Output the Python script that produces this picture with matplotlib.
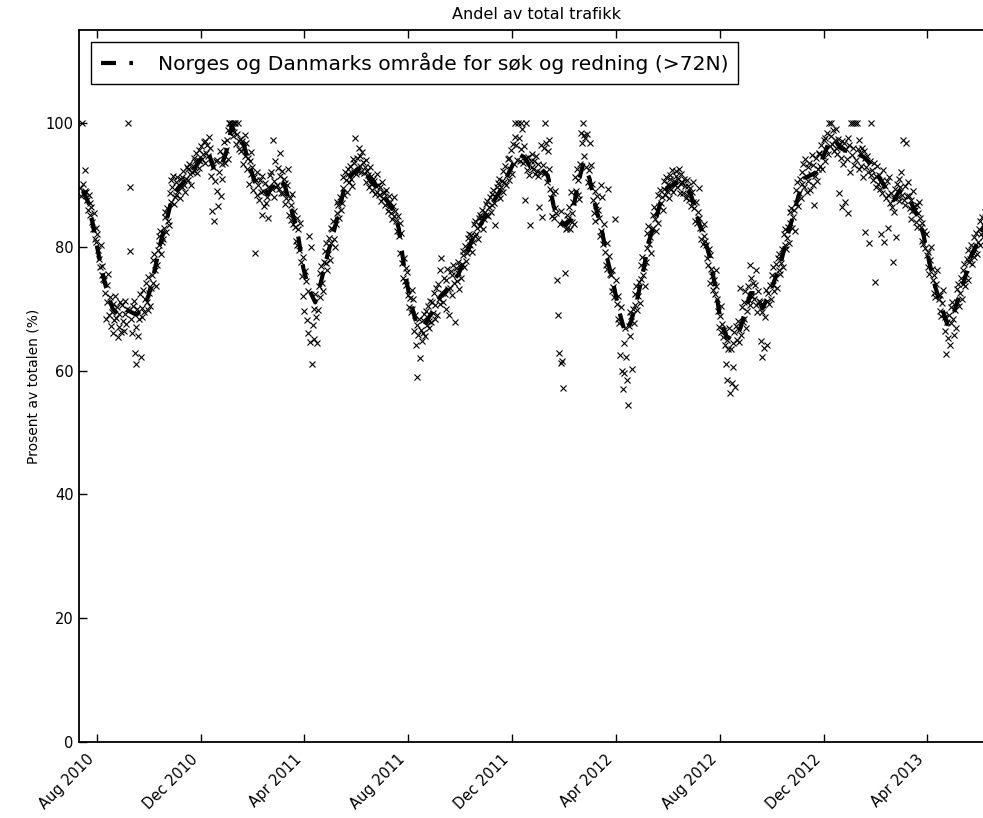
import numpy as np
import matplotlib
matplotlib.use('Agg')
import matplotlib.pyplot as plt
import matplotlib.dates as mdates

# weekly mean of the share (%) - dashed line
start = np.datetime64('2010-07-12')
weekly_mean = [
    89, 87, 82, 77, 73, 70, 69, 70, 69.5, 69,
    70, 72, 76, 80.5, 84, 88, 89.5, 90.5, 91.5, 93,
    94.5, 95.5, 92.5, 92.5, 95, 99.5, 97.5, 96.5, 93, 90,
    89.5, 88.5, 90, 91, 89.5, 86, 82.5, 76.5, 73, 71,
    74.5, 78.5, 82, 86, 90, 91.5, 92.5, 93, 91, 90,
    89, 87.5, 86, 83, 76, 71, 67.5, 67, 68.5, 70,
    72, 73, 74.5, 75.5, 78, 80.5, 82.5, 84, 86, 87.5,
    89, 91, 93, 95, 94.5, 93, 93, 92.5, 91.5, 86.5,
    84, 83.5, 84.5, 90, 93.5, 91, 86.5, 83, 78, 74,
    69.5, 66, 68, 71.5, 76, 81, 84, 87.5, 89.5, 90,
    90.5, 89.5, 88.5, 85, 82, 79, 74, 68, 65.5, 65,
    66, 69, 72.5, 72.5, 70, 72, 74.5, 77, 81, 84.5,
    88, 91, 91.5, 92, 94, 96.5, 97.5, 96, 95.5, 95.5,
    95, 94.5, 93.5, 92, 90.5, 89, 87.5, 89, 88.5, 87,
    85, 82, 77.5, 73.5, 70.5, 67.5, 69, 72, 75, 78.5,
    80.5, 83, 85,
]

# daily values (%), one row per week
daily_vals = [
    [89.5, 88.2, 100, 90.1, 88.7, 89.0, 92.4],
    [88.9, 87.5, 86.0, 88.3, 85.2, 87.1, 86.4],
    [84.0, 82.8, 85.5, 81.2, 83.0, 80.7, 82.1],
    [79.5, 78.0, 76.8, 80.2, 75.4, 76.9, 74.8],
    [74.6, 72.5, 68.3, 73.8, 71.0, 75.6, 69.0],
    [71.8, 67.2, 69.5, 66.0, 70.8, 68.1, 72.0],
    [68.5, 70.2, 65.4, 69.1, 67.0, 71.0, 66.3],
    [70.6, 68.0, 66.4, 71.3, 69.2, 67.5, 70.0],
    [100, 69.8, 89.6, 79.3, 68.4, 66.1, 70.5],
    [71.2, 62.8, 61.0, 67.0, 69.9, 65.5, 68.3],
    [72.4, 62.2, 70.1, 68.7, 73.0, 69.4, 71.5],
    [74.2, 71.0, 69.8, 75.1, 72.6, 70.4, 73.3],
    [75.4, 77.9, 74.1, 78.8, 76.2, 73.6, 77.0],
    [79.4, 81.8, 80.2, 82.5, 78.9, 80.8, 81.3],
    [83.0, 85.6, 84.8, 82.4, 86.2, 84.1, 83.5],
    [88.6, 90.8, 87.2, 89.7, 91.5, 86.9, 88.0],
    [90.4, 88.3, 91.2, 89.0, 90.0, 87.8, 91.0],
    [91.3, 89.6, 92.2, 90.0, 88.9, 90.9, 92.8],
    [92.6, 90.7, 93.4, 91.8, 89.9, 92.0, 93.1],
    [94.4, 92.3, 93.8, 95.2, 91.9, 94.0, 92.7],
    [95.6, 93.8, 96.3, 94.2, 95.0, 96.9, 93.6],
    [97.0, 95.1, 96.4, 94.6, 97.8, 95.9, 93.5],
    [91.4, 85.8, 92.9, 84.2, 90.6, 93.8, 89.0],
    [94.0, 86.5, 92.1, 95.4, 88.2, 93.3, 91.0],
    [94.8, 96.9, 93.6, 95.7, 97.2, 94.1, 98.9],
    [100, 100, 99.2, 100, 97.9, 100, 98.6],
    [100, 96.6, 98.2, 100, 97.1, 95.8, 97.4],
    [95.5, 97.0, 93.4, 96.1, 98.0, 94.6, 96.8],
    [92.5, 94.4, 90.1, 93.9, 91.7, 95.3, 92.8],
    [89.2, 91.3, 79.0, 90.8, 88.4, 92.1, 89.9],
    [87.6, 90.7, 88.9, 85.2, 91.4, 89.0, 86.6],
    [90.3, 87.1, 88.0, 89.6, 84.7, 88.8, 91.6],
    [92.0, 89.3, 97.3, 90.6, 88.1, 93.8, 89.7],
    [90.0, 92.7, 89.4, 95.1, 91.5, 88.6, 92.2],
    [88.7, 91.0, 86.9, 90.3, 87.8, 89.9, 92.6],
    [85.1, 87.9, 84.3, 86.7, 88.5, 83.6, 85.8],
    [83.2, 81.0, 84.6, 80.2, 82.8, 79.4, 83.9],
    [77.5, 75.2, 72.0, 78.3, 69.6, 76.0, 74.4],
    [68.2, 66.0, 72.9, 81.8, 64.6, 79.9, 61.0],
    [67.3, 70.0, 65.1, 72.4, 68.6, 64.4, 69.8],
    [73.6, 75.8, 71.9, 76.9, 74.2, 72.8, 77.6],
    [79.3, 77.4, 80.6, 76.2, 78.9, 81.4, 77.8],
    [83.1, 80.6, 82.8, 84.2, 81.3, 79.9, 83.6],
    [85.4, 87.3, 86.8, 84.6, 88.1, 85.9, 87.0],
    [89.5, 91.2, 88.4, 92.0, 90.7, 88.9, 91.8],
    [92.6, 90.4, 93.1, 91.0, 89.8, 94.2, 92.0],
    [93.5, 97.6, 91.8, 94.4, 92.2, 96.0, 93.0],
    [94.6, 92.1, 95.3, 93.7, 91.9, 92.8, 94.0],
    [90.5, 92.3, 91.6, 89.7, 92.9, 90.1, 91.4],
    [89.2, 91.0, 90.6, 88.5, 89.8, 91.7, 88.9],
    [90.0, 88.3, 89.6, 87.4, 90.4, 88.8, 87.9],
    [88.6, 86.7, 89.1, 87.0, 85.8, 88.2, 86.4],
    [87.3, 85.4, 84.5, 86.6, 88.0, 84.9, 85.7],
    [84.1, 82.6, 85.0, 81.7, 79.0, 83.8, 82.2],
    [77.3, 75.0, 78.1, 74.5, 76.6, 73.8, 75.9],
    [72.2, 70.3, 71.7, 69.4, 73.0, 70.0, 71.5],
    [66.4, 68.9, 64.2, 67.3, 59.0, 65.8, 68.4],
    [62.0, 66.6, 64.7, 68.2, 66.0, 69.1, 65.5],
    [69.6, 67.4, 70.4, 66.9, 68.0, 71.3, 67.8],
    [71.0, 69.3, 72.6, 68.4, 70.6, 73.4, 69.0],
    [74.0, 71.5, 76.2, 70.7, 78.2, 72.6, 71.1],
    [75.0, 72.3, 74.6, 70.0, 76.4, 73.1, 68.9],
    [73.3, 76.0, 72.2, 75.4, 77.1, 74.1, 67.8],
    [76.6, 74.4, 77.5, 75.8, 73.2, 76.9, 75.0],
    [77.2, 79.3, 78.6, 76.8, 80.1, 77.7, 79.0],
    [81.4, 79.6, 82.0, 80.2, 81.9, 79.1, 80.8],
    [83.6, 81.8, 84.2, 82.1, 83.0, 81.2, 84.6],
    [85.1, 83.3, 84.8, 86.0, 82.9, 84.5, 85.6],
    [86.9, 85.2, 87.4, 84.9, 86.4, 88.0, 85.6],
    [88.5, 86.8, 89.2, 87.0, 83.5, 88.1, 89.6],
    [90.3, 88.4, 91.0, 87.9, 89.7, 90.6, 88.8],
    [92.2, 90.4, 93.0, 89.9, 91.6, 94.1, 90.8],
    [94.4, 92.6, 95.7, 91.8, 96.6, 93.4, 97.8],
    [100, 96.4, 94.0, 100, 97.5, 93.8, 100],
    [95.8, 99.0, 93.6, 96.2, 87.6, 94.4, 100],
    [92.4, 94.5, 91.6, 83.5, 93.8, 92.9, 95.0],
    [92.6, 93.9, 91.8, 94.7, 92.2, 93.3, 91.5],
    [86.4, 92.0, 96.4, 84.8, 93.2, 91.7, 95.9],
    [100, 96.8, 90.4, 95.5, 97.2, 92.6, 89.4],
    [87.8, 85.0, 88.6, 84.6, 86.2, 89.0, 85.4],
    [74.6, 69.0, 62.8, 83.6, 61.2, 85.7, 61.6],
    [57.2, 84.0, 75.8, 82.8, 85.2, 83.0, 84.4],
    [86.4, 82.9, 88.8, 84.0, 85.5, 87.2, 83.6],
    [91.2, 89.0, 92.6, 88.3, 90.7, 87.7, 93.4],
    [98.4, 96.8, 100, 98.0, 94.6, 97.5, 92.8],
    [98.2, 90.5, 92.4, 96.8, 89.8, 93.2, 90.2],
    [87.6, 85.4, 89.0, 84.2, 86.8, 88.2, 85.9],
    [84.6, 81.8, 89.9, 82.6, 88.0, 80.4, 83.7],
    [79.2, 77.0, 80.6, 76.4, 89.4, 78.5, 75.6],
    [75.4, 72.8, 76.3, 73.5, 71.9, 84.5, 74.7],
    [70.8, 68.4, 72.0, 67.6, 62.5, 70.3, 60.0],
    [57.0, 64.4, 59.6, 66.8, 62.2, 58.5, 54.4],
    [67.2, 69.4, 65.5, 68.8, 60.2, 70.0, 67.6],
    [72.4, 70.6, 73.6, 69.8, 72.0, 74.3, 70.9],
    [77.0, 74.8, 78.3, 75.4, 76.8, 73.6, 77.5],
    [82.2, 79.8, 83.4, 80.5, 81.6, 79.0, 82.8],
    [85.2, 83.0, 86.4, 84.4, 82.6, 85.8, 83.8],
    [88.4, 86.6, 89.1, 87.0, 88.0, 85.9, 89.4],
    [90.6, 88.4, 91.2, 89.0, 90.2, 87.9, 91.6],
    [91.0, 89.4, 92.4, 88.8, 90.6, 89.9, 92.2],
    [91.4, 89.6, 90.9, 92.6, 88.7, 90.2, 91.8],
    [90.4, 88.6, 91.0, 89.8, 87.9, 90.7, 88.3],
    [89.8, 87.6, 89.5, 86.6, 88.9, 90.5, 87.2],
    [86.2, 84.2, 87.3, 83.8, 85.6, 89.5, 84.6],
    [83.0, 81.3, 82.8, 80.4, 83.6, 81.8, 80.9],
    [80.2, 78.1, 77.0, 79.6, 74.2, 78.6, 76.4],
    [75.2, 73.0, 74.7, 72.4, 76.3, 73.6, 71.6],
    [69.6, 67.0, 68.8, 66.2, 70.4, 67.5, 65.4],
    [66.6, 64.2, 61.0, 65.0, 58.4, 63.4, 66.9],
    [56.4, 63.5, 58.0, 64.4, 60.6, 66.2, 57.4],
    [67.2, 65.0, 68.0, 64.6, 66.6, 73.3, 65.8],
    [70.2, 67.8, 71.0, 68.4, 72.8, 66.8, 69.6],
    [73.6, 71.4, 77.0, 70.6, 75.0, 72.0, 74.2],
    [71.6, 73.8, 70.6, 76.2, 69.4, 72.9, 71.2],
    [71.0, 64.8, 69.4, 62.2, 70.6, 63.6, 68.6],
    [73.0, 71.2, 64.2, 72.6, 70.8, 73.8, 71.6],
    [75.4, 73.8, 76.8, 72.9, 74.9, 77.2, 73.4],
    [78.1, 76.2, 78.8, 75.6, 77.4, 79.6, 76.8],
    [82.0, 80.2, 82.8, 79.6, 81.4, 83.2, 80.6],
    [85.6, 83.8, 86.2, 83.1, 84.8, 85.9, 82.6],
    [89.2, 87.0, 90.4, 86.6, 88.6, 91.0, 87.8],
    [92.0, 90.2, 93.4, 89.6, 94.2, 91.4, 88.8],
    [92.8, 90.6, 93.6, 89.2, 91.8, 94.8, 90.0],
    [93.2, 86.8, 91.4, 94.4, 90.6, 92.6, 95.0],
    [95.2, 93.0, 96.4, 92.6, 94.6, 97.2, 93.8],
    [97.6, 95.6, 98.4, 95.0, 100, 96.2, 97.9],
    [100, 96.6, 98.8, 95.4, 97.2, 99.0, 96.0],
    [95.0, 97.4, 88.7, 96.6, 94.4, 86.4, 97.0],
    [93.4, 96.8, 87.2, 95.8, 94.2, 97.6, 85.5],
    [96.4, 92.0, 100, 94.8, 100, 96.0, 93.2],
    [100, 94.0, 100, 95.8, 92.6, 97.2, 95.2],
    [93.0, 96.0, 91.2, 95.4, 82.4, 94.4, 92.8],
    [94.6, 92.0, 80.6, 93.8, 91.6, 100, 92.4],
    [90.8, 93.6, 74.3, 91.4, 89.6, 93.0, 90.2],
    [91.6, 89.4, 82.0, 90.8, 88.6, 92.4, 80.8],
    [89.8, 87.8, 90.6, 83.0, 88.4, 91.2, 87.0],
    [88.6, 86.4, 77.5, 87.8, 85.6, 89.4, 81.6],
    [90.2, 88.0, 91.0, 87.4, 89.6, 92.0, 88.4],
    [97.2, 87.6, 89.8, 86.8, 96.8, 88.2, 90.4],
    [88.2, 86.2, 84.4, 87.6, 85.8, 89.0, 86.6],
    [86.0, 84.0, 86.8, 83.2, 85.4, 87.2, 84.6],
    [83.2, 81.0, 83.8, 80.4, 82.6, 79.8, 82.0],
    [78.6, 76.8, 79.2, 75.6, 77.9, 80.0, 76.4],
    [74.6, 72.6, 75.4, 71.8, 73.9, 76.2, 72.2],
    [71.6, 69.6, 72.2, 68.8, 70.9, 73.0, 69.2],
    [68.6, 66.4, 62.6, 67.8, 65.2, 69.0, 64.2],
    [70.2, 67.6, 71.0, 68.4, 65.8, 69.8, 66.8],
    [73.2, 71.0, 74.0, 70.4, 72.6, 75.0, 71.6],
    [76.2, 74.0, 77.2, 73.6, 75.6, 78.0, 74.6],
    [79.4, 77.6, 78.0, 80.2, 77.2, 79.0, 78.4],
    [81.6, 79.6, 82.2, 78.9, 80.8, 82.8, 80.2],
    [84.2, 82.0, 84.8, 81.6, 83.4, 85.6, 82.6],
    [86.0, 84.2, 86.6, 83.8, 85.4, 87.2, 84.8],
]

label = 'Norges og Danmarks område for søk og redning (>72N)'

vals = np.array(daily_vals).ravel()
days = start + np.arange(len(vals)).astype('timedelta64[D]')
weeks = start + (7 * np.arange(len(weekly_mean)) + 3).astype('timedelta64[D]')

fig = plt.figure(figsize=(9.83, 8.18), dpi=100)
ax = fig.add_axes([0.0799, 0.0929, 0.9313, 0.8704])

ax.plot(days, vals, 'kx', ms=4.5, mew=0.8)
ax.plot(weeks, weekly_mean, color='k', lw=3, dashes=(3.6, 3.2), label=label)

ax.set_xlim(np.datetime64('2010-07-10'), np.datetime64('2013-06-19'))
ax.set_ylim(0, 115)
ax.set_yticks([0, 20, 40, 60, 80, 100])
ax.xaxis.set_major_locator(mdates.MonthLocator(bymonth=[4, 8, 12]))
ax.xaxis.set_major_formatter(mdates.DateFormatter('%b %Y'))
for t in ax.get_xticklabels():
    t.set_rotation(45)
    t.set_ha('right')

ax.tick_params(direction='in', top=True, right=True, length=6, width=1, labelsize=10.5)
ax.tick_params(axis='x', pad=7)
for s in ax.spines.values():
    s.set_linewidth(1.3)

ax.set_ylabel('Prosent av totalen (%)', fontsize=10)
ax.set_title('Andel av total trafikk', fontsize=11.5, pad=8)
leg = ax.legend(loc='upper left', fontsize=14.6, handlelength=1.6, handletextpad=1.2,
                fancybox=False, framealpha=1, edgecolor='black', borderaxespad=0.6,
                borderpad=0.5)
leg.get_frame().set_linewidth(1.0)

fig.savefig('out.png', dpi=100)
